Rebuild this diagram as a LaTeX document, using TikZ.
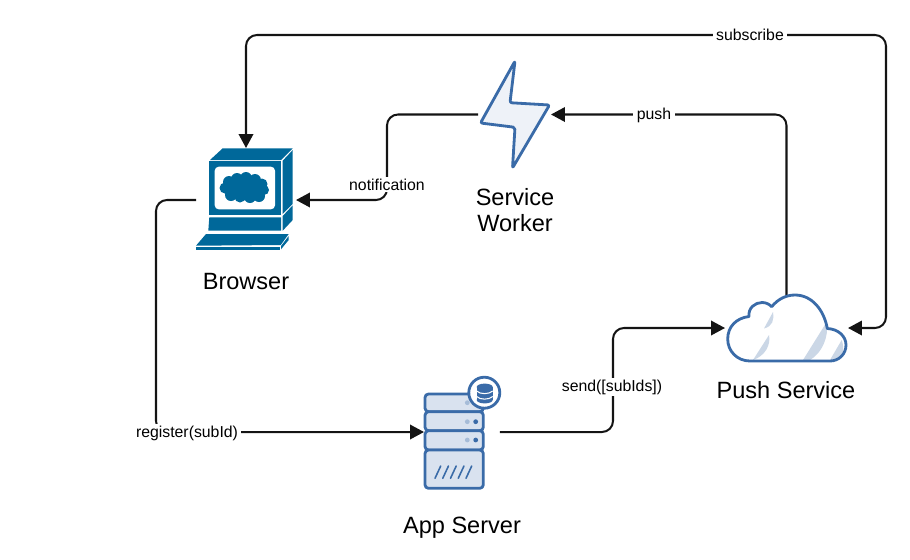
\documentclass[tikz,border=0pt]{standalone}
\usepackage{fontspec}
\setmainfont{Liberation Sans}
\usetikzlibrary{arrows.meta}
\definecolor{termblue}{HTML}{00689A}
\definecolor{iconline}{HTML}{3A6BA8}
\definecolor{iconfill}{HTML}{D9E2EF}
\definecolor{boltfill}{HTML}{EEF2F8}
\definecolor{hatch}{HTML}{CBD7E6}
\tikzset{
  iconbox/.style={inner sep=0pt,outer sep=0pt},
  conn/.style={line width=1.15pt,rounded corners=0.22cm,draw=black!92},
  lbl/.style={fill=white,inner xsep=2pt,inner ysep=1pt,font=\fontsize{9}{11}\selectfont},
  title/.style={align=center,font=\fontsize{13.4}{14.8}\selectfont},
  iconstroke/.style={draw=iconline,line width=1.6pt,line join=round}
}
\begin{document}
\begin{tikzpicture}[x=0.02cm,y=-0.02cm,>={Stealth[inset=0pt,length=2.8mm,width=2.9mm]}]
\useasboundingbox (0,0) rectangle (910,559);
% hubs
\node[iconbox,minimum width=2cm,minimum height=2.08cm] (browser) at (246,200) {};
\node[iconbox,minimum width=1.46cm,minimum height=2.1cm] (worker) at (514.5,114.5) {};
\node[iconbox,minimum width=1.52cm,minimum height=2.24cm] (server) at (462,432) {};
\node[iconbox,minimum width=2.46cm,minimum height=1.32cm] (cloud) at (786.5,328) {};
\coordinate (subscribecorner) at (886,35);
\coordinate (notifybend) at (387,114.5);
\coordinate (registerbend) at (156,432);
\coordinate (sendbend) at (613,432);
% connectors
\draw[conn,<->] (cloud.east) -| (subscribecorner) -| (browser.north);
\draw[conn,->] (worker.west) -- (notifybend) |- (browser.east);
\draw[conn,->] (cloud.north) |- (worker.east);
\draw[conn,->] (browser.west) -| (registerbend) -- (server.west);
\draw[conn,->] (server.east) -- (sendbend) |- (cloud.west);
% connector labels
\node[lbl] (subscribelabel) at (750,35) {subscribe};
\node[lbl] (notificationlabel) at (387,184.5) {notification};
\node[lbl] (pushlabel) at (654,115) {push};
\node[lbl] (registerlabel) at (187,433) {register(subId)};
\node[lbl] (sendlabel) at (612,387) {send([subIds])};
% browser
\fill[termblue] (210,160) -- (222.7,148.3) -- (292.7,148.3) -- (281,160) -- cycle;
\fill[termblue] (209,160.7) rectangle (281,215);
\fill[white,rounded corners=0.08cm] (214.7,166.7) rectangle (275,209.3);
\fill[termblue] (244,188.3) ellipse (21 and 12);
\foreach \cx/\cy/\cr in {225/188/5.5,229/182/6,237/179/6,246/178/6,255/180/6,262/184/5.5,264/190/5,259/196/6,250/197/6,240/197/5.5,231/195/6}
  \fill[termblue] (\cx,\cy) circle[radius=\cr];
\fill[termblue] (282.7,160.7) -- (292.7,150) -- (292.7,204) -- (282.7,214) -- cycle;
\fill[termblue] (209.3,217.3) -- (281,217.3) -- (281,230.7) -- (208.3,230.7) -- cycle;
\fill[termblue] (282.7,216) -- (292.7,205.3) -- (292.7,220) -- (282.7,230.7) -- cycle;
\fill[termblue] (206,234) -- (288.7,234) -- (280.7,245) -- (196,245.7) -- cycle;
\fill[termblue] (196,246.7) rectangle (280,250);
\fill[termblue] (281,246) -- (288.7,236) -- (288.7,240) -- (281,249.3) -- cycle;
% bolt
\draw[iconstroke,fill=boltfill,rounded corners=0.04cm] (515,61) -- (480.5,123) -- (515,127.3) -- (512.5,168) -- (549.5,105) -- (510,102.7) -- cycle;
% server
\foreach \ya/\yb in {394/411.7,411.7/430.7,430.7/450,450/488.3}
  \draw[iconstroke,fill=iconfill,rounded corners=0.07cm] (425,\ya) rectangle (483.3,\yb);
\fill[iconline!45] (467.3,402.7) circle[radius=2.4];
\fill[iconline!45] (467.3,421.7) circle[radius=2.4];
\fill[iconline] (475.7,421.7) circle[radius=2.4];
\fill[iconline!45] (467.3,440) circle[radius=2.4];
\fill[iconline] (475.7,440) circle[radius=2.4];
\foreach \i in {0,...,4}
  \draw[iconline,line width=0.9pt,line cap=round] ({435+7.75*\i},478.3) -- ({440.7+7.75*\i},466);
\draw[iconstroke,fill=white] (484.3,392.7) circle[radius=15.5];
\fill[iconline] (476.7,387) rectangle (492.7,400);
\fill[iconline] (484.7,387) ellipse (8 and 3.4);
\fill[iconline] (484.7,400) ellipse (8 and 3.4);
\draw[white,line width=0.6pt] (476.7,391) .. controls (480,394.5) and (489,394.5) .. (492.7,391);
\draw[white,line width=0.6pt] (476.7,396.5) .. controls (480,400) and (489,400) .. (492.7,396.5);
% cloud
\fill[white] (750,361) .. controls (737,361) and (727.7,351) .. (727.7,339) .. controls (727.7,327) and (736,318) .. (749,316.5) .. controls (748,308) and (755,302.5) .. (762,302.5) .. controls (766,302.5) and (769,304) .. (771.7,306.7) .. controls (778,299) and (786,295) .. (795,295) .. controls (812,295) and (824,310) .. (827.3,328.5) .. controls (838,329) and (846,336) .. (846,345) .. controls (846,354) and (839,361) .. (830,361) -- cycle;
\fill[hatch] (753,360) -- (769,335) .. controls (771,345) and (765,356) .. (753,360) -- cycle;
\fill[hatch] (764,328.5) -- (773,312) .. controls (774,320) and (773,326) .. (764,328.5) -- cycle;
\fill[hatch] (803,360) -- (826.7,322) .. controls (829,337) and (822,353) .. (810,360) -- cycle;
\fill[hatch] (830,360) -- (841.7,340) .. controls (845,350) and (843,357) .. (836,360) -- cycle;
\draw[iconstroke] (750,361) .. controls (737,361) and (727.7,351) .. (727.7,339) .. controls (727.7,327) and (736,318) .. (749,316.5) .. controls (748,308) and (755,302.5) .. (762,302.5) .. controls (766,302.5) and (769,304) .. (771.7,306.7) .. controls (778,299) and (786,295) .. (795,295) .. controls (812,295) and (824,310) .. (827.3,328.5) .. controls (838,329) and (846,336) .. (846,345) .. controls (846,354) and (839,361) .. (830,361) -- cycle;
% titles
\node[title] (browsertitle) at (246,282) {Browser};
\node[title] (workertitle) at (515,210) {Service\\Worker};
\node[title] (servertitle) at (462,528) {App Server};
\node[title] (cloudtitle) at (786,390) {Push Service};
\end{tikzpicture}
\end{document}
